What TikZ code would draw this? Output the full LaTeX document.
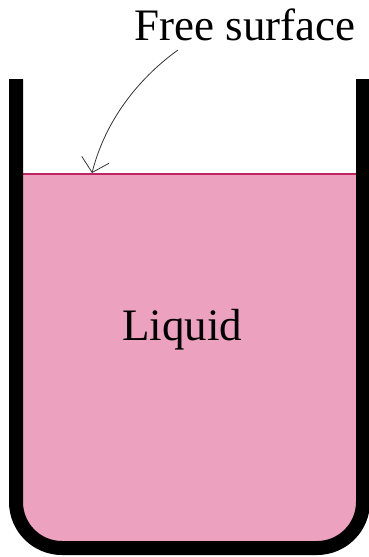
\documentclass[tikz,border=0pt]{standalone}
\usepackage{fontspec}
\setmainfont{Liberation Serif}
\usepackage{tikz}
\usetikzlibrary{arrows.meta}
\definecolor{liquidpink}{RGB}{236,162,191}
\definecolor{surfpink}{RGB}{190,36,100}
\tikzset{
  wall/.style={line width=14pt,rounded corners=46pt},
  liquid/.style={fill=liquidpink,rounded corners=46pt},
  surf/.style={draw=surfpink,line width=2.2pt},
  lbl/.style={inner sep=0pt,font=\fontsize{45}{50}\selectfont},
  pointer/.style={-{Straight Barb[length=13pt,width=28pt]},line width=0.8pt,black!80},
}

\begin{document}
\begin{tikzpicture}[x=1pt,y=-1pt]
  \useasboundingbox (0,0) rectangle (369,557);
  % liquid and its free surface
  \fill[liquid] (16,174) -- (16,548) -- (363,548) -- (363,174);
  \draw[surf] (23,174) -- (356,174);
  % tank
  \draw[wall] (16,79) -- (16,548) -- (363,548) -- (363,79);
  % labels
  \node[lbl,anchor=base] (fs) at (245,40) {Free surface};
  \node[lbl,anchor=base] (lq) at (182,340) {Liquid};
  \coordinate (tail) at (178,50);
  \coordinate (tip) at (92,173);
  \draw[pointer] (tail) .. controls (150,70) and (108,110) .. (tip);
\end{tikzpicture}
\end{document}
